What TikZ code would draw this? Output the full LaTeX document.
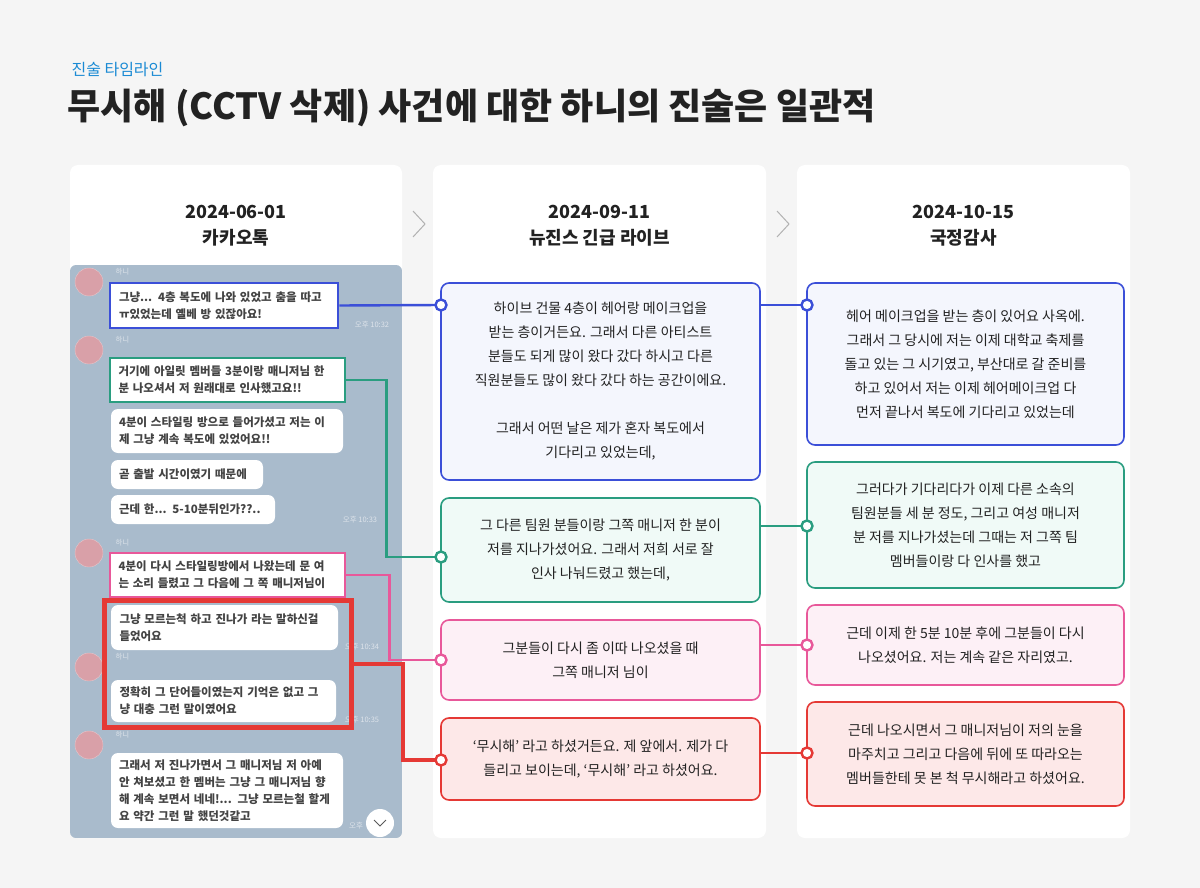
\documentclass[tikz,border=0pt]{standalone}
\usepackage{fontspec}
\setmainfont{Noto Sans CJK KR}
\usetikzlibrary{calc}
\definecolor{bg}{HTML}{F5F5F5}
\definecolor{chatbg}{HTML}{A9BBCC}
\definecolor{cblue}{HTML}{3B4FD8}\definecolor{fblue}{HTML}{F4F6FD}
\definecolor{cteal}{HTML}{2A9D80}\definecolor{fteal}{HTML}{F0FAF7}
\definecolor{cpink}{HTML}{E8589A}\definecolor{fpink}{HTML}{FDF0F6}
\definecolor{cred}{HTML}{E53935}\definecolor{fred}{HTML}{FDE8E8}
\definecolor{tdark}{HTML}{222222}
\definecolor{tblue}{HTML}{1A8AD4}
\definecolor{avc}{HTML}{D9A0A8}
\definecolor{chatsmall}{HTML}{DDE3EA}
\tikzset{
 card/.style={fill=white,rounded corners=8pt,draw=none},
 stmt/.style={draw=c#1,fill=f#1,line width=1.6pt,rounded corners=8pt,align=center,
   font=\fontsize{14}{24}\selectfont,text=tdark,inner sep=0pt},
 bub/.style={fill=white,rounded corners=7pt,align=left,inner sep=0pt,
   font=\bfseries\fontsize{11.5}{17}\selectfont,text=tdark!85,text width=#1},
 hdr/.style={font=\bfseries\fontsize{18}{26}\selectfont,text=tdark,align=center},
 small/.style={font=\fontsize{7.5}{8}\selectfont,text=chatsmall},
 dot/.style={circle,fill=white,draw=#1,line width=2.4pt,inner sep=0pt,minimum size=11pt},
 conn/.style={draw=#1,line width=2.4pt},
 av/.style={circle,fill=avc,draw=avc!60!white,inner sep=0pt,minimum size=28pt},
}
\begin{document}
\begin{tikzpicture}[x=1pt,y=-1pt]
\fill[bg] (0,0) rectangle (1200,888);
\useasboundingbox (0,0) rectangle (1200,888);
\node[anchor=west,text=tblue,font=\fontsize{16}{18}\selectfont] (kicker) at (68,70) {진술 타임라인};
\node[anchor=west,text=tdark,font=\bfseries\fontsize{36}{40}\selectfont] (title) at (64,108) {무시해 (CCTV 삭제) 사건에 대한 하니의 진술은 일관적};
% cards
\fill[card] (70,165) rectangle (402,838);
\fill[card] (433,165) rectangle (766,838);
\fill[card] (797,165) rectangle (1130,838);
\node[hdr] (h1) at (236,226) {2024-06-01\\카카오톡};
\node[hdr] (h2) at (599.5,226) {2024-09-11\\뉴진스 긴급 라이브};
\node[hdr] (h3) at (963.5,226) {2024-10-15\\국정감사};
\draw[gray!60,line width=1pt] (413,211) -- (425,224) -- (413,237);
\draw[gray!60,line width=1pt] (777,211) -- (789,224) -- (777,237);
% chat
\begin{scope}
\clip[rounded corners=6pt] (70,265) rectangle (402,838);
\fill[chatbg] (70,265) rectangle (402,838);
\end{scope}
\foreach \n/\y in {a1/282,a2/350,a3/553,a4/667,a5/745}{
  \node[av] (\n) at (89,\y) {};
  \node[small,anchor=west] at (112,\y-10) {하니};
}
\node[bub=210pt,minimum width=228pt,minimum height=45pt,draw=cblue,line width=2.6pt,rounded corners=0pt,inner xsep=8pt] (c1) at (224,305.5) {그냥... 4층 복도에 나와 있었고 춤을 따고\\ㅠ있었는데 옐베 방 있잖아요!};
\node[small] at (372,325) {오후 10:32};
\node[bub=218pt,minimum width=235pt,minimum height=44pt,draw=cteal,line width=2.6pt,rounded corners=0pt,inner xsep=8pt] (c2) at (227.5,380) {거기에 아일릿 멤버들 3분이랑 매니저님 한\\분 나오셔서 저 원래대로 인사했고요!!};
\node[bub=216pt,minimum width=232pt,minimum height=44pt,inner xsep=8pt] (c3) at (227,431) {4분이 스타일링 방으로 들어가셨고 저는 이\\제 그냥 계속 복도에 있었어요!!};
\node[bub=136pt,minimum width=152pt,minimum height=29pt,inner xsep=8pt] (c4) at (187,474.5) {곧 출발 시간이였기 때문에};
\node[bub=148pt,minimum width=164pt,minimum height=29pt,inner xsep=8pt] (c5) at (193,509.5) {근데 한... 5-10분뒤인가??..};
\node[small] at (360,520) {오후 10:33};
\node[bub=218pt,minimum width=235pt,minimum height=44pt,draw=cpink,line width=2.6pt,rounded corners=0pt,inner xsep=8pt] (c6) at (227.5,575) {4분이 다시 스타일링방에서 나왔는데 문 여\\는 소리 들렸고 그 다음에 그 쪽 매니저님이};
\node[bub=210pt,minimum width=227pt,minimum height=45pt,inner xsep=8pt] (c7) at (224.5,627.5) {그냥 모르는척 하고 진나가 라는 말하신걸\\들었어요};
\node[small] at (362,647) {오후 10:34};
\node[bub=208pt,minimum width=225pt,minimum height=42pt,inner xsep=8pt] (c8) at (223.5,701) {정확히 그 단어들이였는지 기억은 없고 그\\냥 대충 그런 말이였어요};
\node[small] at (362,720) {오후 10:35};
\node[draw=cred,line width=5pt,minimum width=247pt,minimum height=127pt,inner sep=0pt] (redbox) at (227.5,663.5) {};
\node[bub=216pt,minimum width=232pt,minimum height=75pt,inner xsep=8pt] (c9) at (227,790.5) {그래서 저 진나가면서 그 매니저님 저 아예\\안 쳐보셨고 한 멤버는 그냥 그 매니저님 향\\해 계속 보면서 네네!... 그냥 모르는철 할게\\요 약간 그런 말 했던것같고};
\node[small] at (356,826) {오후};
\node[circle,fill=white,minimum size=28pt,inner sep=0pt] (down) at (380,823) {};
\draw[gray!70!black,line width=1pt] (374,820) -- (380,826) -- (386,820);
% middle statements
\node[stmt=blue,minimum width=319pt,minimum height=197pt] (m1) at (600.5,381.5) {하이브 건물 4층이 헤어랑 메이크업을\\받는 층이거든요. 그래서 다른 아티스트\\분들도 되게 많이 왔다 갔다 하시고 다른\\직원분들도 많이 왔다 갔다 하는 공간이에요.\\[24pt]그래서 어떤 날은 제가 혼자 복도에서\\기다리고 있었는데,};
\node[stmt=teal,minimum width=319pt,minimum height=104pt] (m2) at (600.5,550) {그 다른 팀원 분들이랑 그쪽 매니저 한 분이\\저를 지나가셨어요. 그래서 저희 서로 잘\\인사 나눠드렸고 했는데,};
\node[stmt=pink,minimum width=319pt,minimum height=80pt] (m3) at (600.5,660) {그분들이 다시 좀 이따 나오셨을 때\\그쪽 매니저 님이};
\node[stmt=red,minimum width=319pt,minimum height=82pt] (m4) at (600.5,759) {‘무시해’ 라고 하셨거든요. 제 앞에서. 제가 다\\들리고 보이는데, ‘무시해’ 라고 하셨어요.};
% right statements
\node[stmt=blue,minimum width=317pt,minimum height=162pt] (r1) at (965.5,364) {헤어 메이크업을 받는 층이 있어요 사옥에.\\그래서 그 당시에 저는 이제 대학교 축제를\\돌고 있는 그 시기였고, 부산대로 갈 준비를\\하고 있어서 저는 이제 헤어메이크업 다\\먼저 끝나서 복도에 기다리고 있었는데};
\node[stmt=teal,minimum width=317pt,minimum height=126pt] (r2) at (965.5,525) {그러다가 기다리다가 이제 다른 소속의\\팀원분들 세 분 정도, 그리고 여성 매니저\\분 저를 지나가셨는데 그때는 저 그쪽 팀\\멤버들이랑 다 인사를 했고};
\node[stmt=pink,minimum width=317pt,minimum height=80pt] (r3) at (965.5,645) {근데 이제 한 5분 10분 후에 그분들이 다시\\나오셨어요. 저는 계속 같은 자리였고.};
\node[stmt=red,minimum width=317pt,minimum height=104pt] (r4) at (965.5,754) {근데 나오시면서 그 매니저님이 저의 눈을\\마주치고 그리고 다음에 뒤에 또 따라오는\\멤버들한테 못 본 척 무시해라고 하셨어요.};
% connector endpoints
\coordinate (l1) at (441,305); \coordinate (l2) at (441,557);
\coordinate (l3) at (441,660); \coordinate (l4) at (441,760);
\coordinate (q1) at (807,305); \coordinate (q2) at (807,526);
\coordinate (q3) at (807,645); \coordinate (q4) at (807,753);
\draw[conn=cblue] (c1.east) -- (l1);
\draw[conn=cteal] (c2.east) -- ++(40,0) |- (l2);
\draw[conn=cpink] (c6.east) -- ++(43,0) |- (l3);
\draw[conn=cred,line width=4pt] (redbox.east) -- ++(49,0) |- (l4);
\draw[conn=cblue] (m1.east |- q1) -- (q1);
\draw[conn=cteal] (m2.east |- q2) -- (q2);
\draw[conn=cpink] (m3.east |- q3) -- (q3);
\draw[conn=cred] (m4.east |- q4) -- (q4);
\foreach \p/\c in {l1/cblue,l2/cteal,l3/cpink,l4/cred,q1/cblue,q2/cteal,q3/cpink,q4/cred}
  \node[dot=\c] (d\p) at (\p) {};
\end{tikzpicture}
\end{document}
